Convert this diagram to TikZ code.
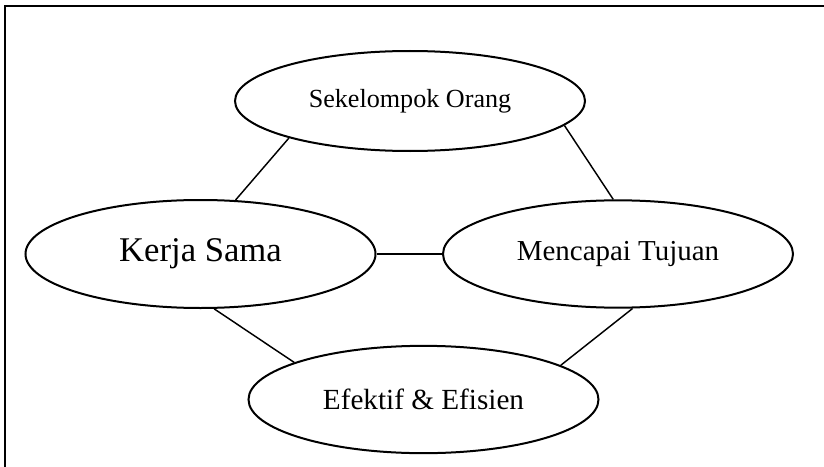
\documentclass[tikz,border=0pt]{standalone}
\usepackage{fontspec}
\setmainfont{Liberation Serif}
\usetikzlibrary{shapes.geometric}
\tikzset{
  oval/.style={ellipse, draw, line width=1.5pt, inner sep=0pt,
    minimum width=262.5pt, minimum height=80pt, align=center},
  link/.style={line width=1.1pt},
  frame/.style={line width=1.7pt}
}
\begin{document}
\begin{tikzpicture}[x=0.75pt,y=-0.75pt]
\useasboundingbox (0,0) rectangle (824,467);
\draw[frame] (824,6) -- (5,6) -- (5,467);
\node[oval, minimum height=75pt] (so) at (410,101) {\fontsize{19.6}{22}\selectfont Sekelompok Orang};
\node[oval, minimum height=81pt] (ks) at (200.5,254) {\fontsize{26}{30}\selectfont Kerja Sama};
\node[oval, minimum height=80.5pt] (mt) at (618,254) {\fontsize{21.7}{25}\selectfont Mencapai Tujuan};
\node[oval, minimum height=80.5pt] (ef) at (423.5,399.5) {\fontsize{21.9}{25}\selectfont Efektif \& Efisien};
\draw[link] (so.197.4) -- (ks.57.1);
\draw[link] (so.351) -- (mt.95.3);
\draw[link] (ks.east) -- (mt.west);
\draw[link] (ks.284.8) -- (ef.164.3);
\draw[link] (mt.285.3) -- (ef.14.5);
\end{tikzpicture}
\end{document}
